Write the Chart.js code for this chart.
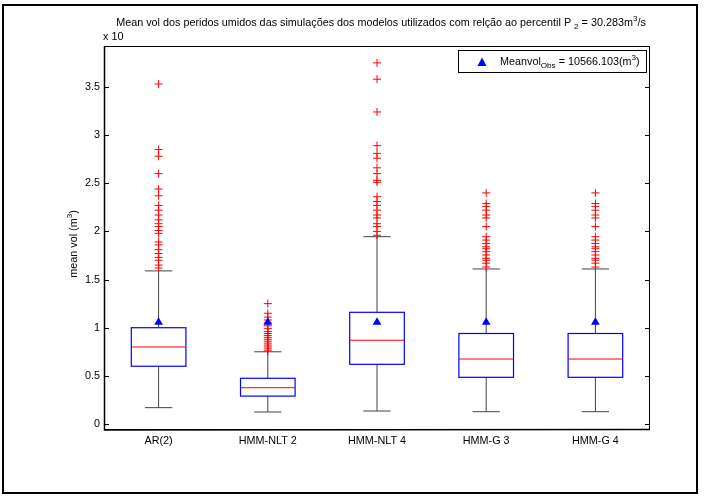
<!DOCTYPE html>
<html>
<head>
<meta charset="utf-8">
<script src="https://cdn.jsdelivr.net/npm/chart.js@4"></script>
<style>
  html, body { margin: 0; padding: 0; background: #fff; }
  #wrap { width: 705px; height: 497px; }
</style>
</head>
<body>
<div id="wrap"><canvas id="boxChart" width="705" height="497"></canvas></div>
<script>
// valores em unidades de 10^4 m3
const categories = ['AR(2)', 'HMM-NLT 2', 'HMM-NLT 4', 'HMM-G 3', 'HMM-G 4'];
const whiskerLow = [0.17, 0.125, 0.135, 0.128, 0.128];
const q1 = [0.60, 0.29, 0.62, 0.485, 0.485];
const medians = [0.80, 0.377, 0.87, 0.675, 0.675];
const q3 = [1.00, 0.475, 1.16, 0.94, 0.94];
const whiskerHigh = [1.59, 0.75, 1.945, 1.61, 1.61];
const meanObs = [1.0566, 1.0566, 1.0566, 1.0566, 1.0566];

const outliersAR2 = [3.53, 2.85, 2.78, 2.60, 2.44, 2.37, 2.27, 2.22, 2.17, 2.12, 2.08, 2.05, 2.01, 1.98,
  1.89, 1.86, 1.81, 1.77, 1.73, 1.70, 1.65, 1.62];
const outliersNLT2 = [1.25, 1.15, 1.11, 1.08, 1.05, 1.02, 0.99, 0.96, 0.94, 0.92, 0.90, 0.88, 0.86,
  0.84, 0.82, 0.80, 0.78, 0.76];
const outliersNLT4 = [3.75, 3.58, 3.24, 2.89, 2.81, 2.76, 2.66, 2.60, 2.53, 2.51, 2.36, 2.31, 2.27,
  2.22, 2.17, 2.14, 2.08, 2.05, 2.00, 1.96];
const outliersG3 = [2.40, 2.29, 2.26, 2.22, 2.17, 2.14, 2.05, 1.945, 1.91, 1.875, 1.84, 1.82, 1.79,
  1.755, 1.72, 1.70, 1.67, 1.63];
const outliersG4 = [2.40, 2.29, 2.26, 2.22, 2.17, 2.14, 2.05, 1.945, 1.91, 1.875, 1.84, 1.82, 1.79,
  1.755, 1.72, 1.70, 1.67, 1.63];
const yTicks = [0, 0.5, 1, 1.5, 2, 2.5, 3, 3.5];

const FONT = '"Liberation Sans", Arial, sans-serif';
const FS = 10.8;

// texto com subscrito / sobrescrito
function drawRich(ctx, parts, x, y, align, size) {
    let total = 0;
    parts.forEach(p => {
        ctx.font = (p.sub || p.sup ? size * 0.75 : size) + 'px ' + FONT;
        total += ctx.measureText(p.t).width;
    });
    let cx = align === 'center' ? x - total / 2 : x;
    ctx.textAlign = 'left';
    ctx.textBaseline = 'alphabetic';
    parts.forEach(p => {
        ctx.font = (p.sub || p.sup ? size * 0.75 : size) + 'px ' + FONT;
        let dy = p.sub ? size * 0.3 : (p.sup ? -size * 0.45 : 0);
        ctx.fillText(p.t, cx, y + dy);
        cx += ctx.measureText(p.t).width;
    });
}

const boxPlugin = {
    id: 'boxPlugin',
    beforeDatasetsDraw(chart) {
        const ctx = chart.ctx;
        const xs = chart.scales.x, ys = chart.scales.y;
        ctx.save();
        categories.forEach((c, i) => {
            const xc = xs.getPixelForValue(i + 1);
            const half = xs.getPixelForValue(1.25) - xs.getPixelForValue(1);
            const capHalf = half / 2;
            const yLo = ys.getPixelForValue(whiskerLow[i]);
            const yQ1 = ys.getPixelForValue(q1[i]);
            const yMed = ys.getPixelForValue(medians[i]);
            const yQ3 = ys.getPixelForValue(q3[i]);
            const yHi = ys.getPixelForValue(whiskerHigh[i]);
            ctx.lineWidth = 1;
            ctx.strokeStyle = '#444';
            ctx.beginPath();
            ctx.moveTo(xc, yQ1); ctx.lineTo(xc, yLo);
            ctx.moveTo(xc, yQ3); ctx.lineTo(xc, yHi);
            ctx.moveTo(xc - capHalf, yLo); ctx.lineTo(xc + capHalf, yLo);
            ctx.moveTo(xc - capHalf, yHi); ctx.lineTo(xc + capHalf, yHi);
            ctx.stroke();
            ctx.lineWidth = 1.2;
            ctx.strokeStyle = '#0000ff';
            ctx.strokeRect(xc - half, yQ3, half * 2, yQ1 - yQ3);
            ctx.lineWidth = 1;
            ctx.strokeStyle = '#ff0000';
            ctx.beginPath();
            ctx.moveTo(xc - half, yMed); ctx.lineTo(xc + half, yMed);
            ctx.stroke();
        });
        ctx.restore();
    },
    afterDraw(chart) {
        const ctx = chart.ctx;
        const a = chart.chartArea;
        const ys = chart.scales.y;
        ctx.save();
        // moldura dos eixos
        ctx.strokeStyle = '#000';
        ctx.lineWidth = 1;
        ctx.strokeRect(a.left + 0.5, a.top + 0.5, a.right - a.left - 1, a.bottom - a.top - 1);
        ctx.beginPath();
        yTicks.forEach(v => {
            const y = Math.round(ys.getPixelForValue(v)) + 0.5;
            ctx.moveTo(a.left, y); ctx.lineTo(a.left + 5, y);
            ctx.moveTo(a.right, y); ctx.lineTo(a.right - 5, y);
        });
        ctx.stroke();
        ctx.lineWidth = 1.5;
        ctx.beginPath();
        ctx.moveTo(a.left + 0.5, a.top); ctx.lineTo(a.left + 0.5, a.bottom);
        ctx.lineTo(a.right, a.bottom - 0.5);
        ctx.stroke();

        ctx.fillStyle = '#000';
        // titulo
        drawRich(ctx, [
            { t: 'Mean vol dos peridos umidos das simulações dos modelos utilizados com relção ao percentil P ' },
            { t: '2', sub: true },
            { t: ' = 30.283m' },
            { t: '3', sup: true },
            { t: '/s' }
        ], (a.left + a.right) / 2 + 4, 26, 'center', FS);
        drawRich(ctx, [{ t: 'x 10' }], a.left - 1, 40, 'left', FS);

        // rotulo do eixo y
        ctx.save();
        ctx.translate(77, (a.top + a.bottom) / 2 + 6);
        ctx.rotate(-Math.PI / 2);
        drawRich(ctx, [{ t: 'mean vol (m' }, { t: '3', sup: true }, { t: ')' }], 0, 0, 'center', FS);
        ctx.restore();

        // legenda
        ctx.lineWidth = 1;
        ctx.strokeStyle = '#000';
        ctx.strokeRect(458.5, 50.5, 188, 22);
        ctx.fillStyle = '#0000ff';
        ctx.beginPath();
        ctx.moveTo(482, 57.5); ctx.lineTo(486.5, 66); ctx.lineTo(477.5, 66);
        ctx.closePath();
        ctx.fill();
        ctx.fillStyle = '#000';
        drawRich(ctx, [
            { t: 'Meanvol' }, { t: 'Obs', sub: true }, { t: ' = 10566.103(m' },
            { t: '3', sup: true }, { t: ')' }
        ], 500, 65, 'left', FS);

        // borda da figura
        ctx.lineWidth = 2;
        ctx.strokeRect(3, 5, 694, 488);
        ctx.restore();
    }
};

const outlierPoints = [];
[outliersAR2, outliersNLT2, outliersNLT4, outliersG3, outliersG4].forEach((arr, i) => {
    arr.forEach(v => outlierPoints.push({ x: i + 1, y: v }));
});
const meanPoints = meanObs.map((v, i) => ({ x: i + 1, y: v }));

Chart.defaults.font.family = FONT;
Chart.defaults.font.size = FS;
Chart.defaults.color = '#000';

const ctx = document.getElementById('boxChart').getContext('2d');
new Chart(ctx, {
    type: 'scatter',
    data: {
        datasets: [{
            label: 'Meanvol Obs',
            data: meanPoints,
            pointStyle: 'triangle',
            radius: 5,
            backgroundColor: '#0000ff',
            borderColor: '#0000ff',
            borderWidth: 0
        }, {
            label: 'outliers',
            data: outlierPoints,
            pointStyle: 'cross',
            radius: 4,
            borderColor: '#ff0000',
            borderWidth: 1
        }]
    },
    plugins: [boxPlugin],
    options: {
        responsive: false,
        animation: false,
        devicePixelRatio: 1,
        layout: { padding: { left: 0, top: 46, right: 55, bottom: 47 } },
        plugins: { legend: { display: false }, tooltip: { enabled: false } },
        scales: {
            x: {
                type: 'linear',
                min: 0.5,
                max: 5.5,
                grid: { display: false, drawTicks: false },
                border: { display: false },
                afterBuildTicks: s => { s.ticks = categories.map((c, i) => ({ value: i + 1 })); },
                afterFit: s => { s.height = 20; },
                ticks: {
                    padding: 5,
                    maxRotation: 0,
                    autoSkip: false,
                    callback: v => categories[v - 1]
                }
            },
            y: {
                min: -0.062,
                max: 3.925,
                grid: { display: false, drawTicks: false },
                border: { display: false },
                afterBuildTicks: s => { s.ticks = yTicks.map(v => ({ value: v })); },
                afterFit: s => { s.width = 104; },
                ticks: { padding: 4, callback: v => String(v) }
            }
        }
    }
});
</script>
</body>
</html>
